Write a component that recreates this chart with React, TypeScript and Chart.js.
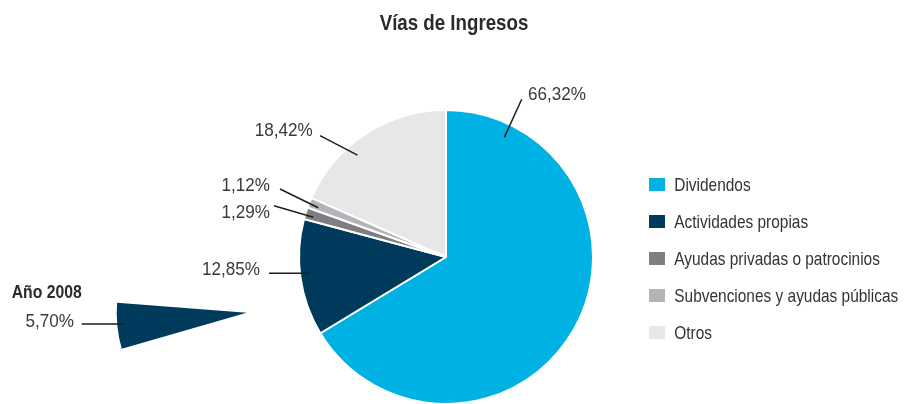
import React, { useEffect, useRef } from "react";
import { Chart, registerables } from "chart.js";

Chart.register(...registerables);

// ---------- data ----------
const TITLE = "Vías de Ingresos";
const CATEGORIES = [
  "Dividendos",
  "Actividades propias",
  "Ayudas privadas o patrocinios",
  "Subvenciones y ayudas públicas",
  "Otros",
];
const VALUES = [66.32, 12.85, 1.29, 1.12, 18.42];
const COLORS = ["#00b2e3", "#003a5d", "#7e7f83", "#b2b4b7", "#e6e7e9"];

const HIGHLIGHT_LABEL = "Año 2008";
const HIGHLIGHT_VALUE = 5.7;
const HIGHLIGHT_COLOR = "#003a5d";

// ---------- layout ----------
const W = 911;
const H = 404;
const FONT = "'Liberation Sans', Arial, sans-serif";
const MAIN_CENTER = { x: 446, y: 257 };
const MAIN_R = 147;
const WEDGE_CENTER = { x: 246.7, y: 312.7 };
const WEDGE_R = 130;
const WEDGE_ROTATION = 253.9;

// per slice: angle (deg clockwise from top) & radius fraction of inner leader end,
// outer leader end relative to centre, text anchor (x, baseline) relative to centre
const LABEL_LAYOUT = [
  { a: 26, rf: 0.905, ex: 75.7, ey: -157.7, tx: 82, ty: -157, align: "left" },
  { a: 263.2, rf: 0.932, ex: -177, ey: 16.3, tx: -186, ty: 18, align: "right" },
  { a: 286.7, rf: 0.942, ex: -172, ey: -51.3, tx: -176, ty: -38.7, align: "right" },
  { a: 291.1, rf: 0.931, ex: -166, ey: -68, tx: -176, ty: -66, align: "right" },
  { a: 319, rf: 0.918, ex: -126, ey: -121.3, tx: -133.3, ty: -121, align: "right" },
];
const LEGEND = { x: 649, box: 16, boxH: 13, textX: 674.3, firstY: 184.5, step: 37 };

function paddingFor(c: { x: number; y: number }) {
  const dx = 2 * c.x - W;
  const dy = 2 * c.y - H;
  return {
    left: dx > 0 ? dx : 0,
    right: dx > 0 ? 0 : -dx,
    top: dy > 0 ? dy : 0,
    bottom: dy > 0 ? 0 : -dy,
  };
}

const fmt = (v: number) => v.toFixed(2).replace(".", ",") + "%";

const LINE_COLOR = "#1e1e1e";
const TEXT_COLOR = "#3a3a3a";

// draws condensed text (horizontal scale sx); align: left | right | center
function drawText(
  ctx: CanvasRenderingContext2D,
  text: string,
  x: number,
  y: number,
  font: string,
  sx: number,
  align: string,
  color: string
) {
  ctx.save();
  ctx.font = font;
  ctx.fillStyle = color;
  ctx.textAlign = "left";
  ctx.textBaseline = "alphabetic";
  const w = ctx.measureText(text).width * sx;
  let x0 = x;
  if (align === "right") x0 = x - w;
  else if (align === "center") x0 = x - w / 2;
  ctx.translate(x0, y);
  ctx.scale(sx, 1);
  ctx.fillText(text, 0, 0);
  ctx.restore();
}

const mainDecor = {
  id: "mainDecor",
  afterDraw(chart: any) {
    const ctx = chart.ctx as CanvasRenderingContext2D;
    ctx.save();
    // title
    drawText(ctx, TITLE, 454, 30, `bold 22px ${FONT}`, 0.85, "center", "#2a2a2a");

    // slice labels
    const meta = chart.getDatasetMeta(0);
    meta.data.forEach((arc: any, i: number) => {
      const { x, y, outerRadius } = arc.getProps(["x", "y", "outerRadius"], true);
      const L = LABEL_LAYOUT[i];
      const ang = (L.a * Math.PI) / 180;
      const r = outerRadius * L.rf;
      const ix = x + r * Math.sin(ang);
      const iy = y - r * Math.cos(ang);
      ctx.strokeStyle = LINE_COLOR;
      ctx.lineWidth = 1.5;
      ctx.beginPath();
      ctx.moveTo(x + L.ex, y + L.ey);
      ctx.lineTo(ix, iy);
      ctx.stroke();
      drawText(ctx, fmt(VALUES[i]), x + L.tx, y + L.ty, `18px ${FONT}`, 0.95, L.align, TEXT_COLOR);
    });

    // legend
    CATEGORIES.forEach((c, i) => {
      const cy = LEGEND.firstY + i * LEGEND.step;
      ctx.fillStyle = COLORS[i];
      ctx.fillRect(LEGEND.x, cy - LEGEND.boxH / 2, LEGEND.box, LEGEND.boxH);
      drawText(ctx, c, LEGEND.textX, cy + 6.6, `18.6px ${FONT}`, 0.83, "left", "#333333");
    });
    ctx.restore();
  },
};

const wedgeDecor = {
  id: "wedgeDecor",
  afterDraw(chart: any) {
    const ctx = chart.ctx as CanvasRenderingContext2D;
    const arc = chart.getDatasetMeta(0).data[0];
    const { x, y } = arc.getProps(["x", "y"], true);
    ctx.save();
    ctx.strokeStyle = LINE_COLOR;
    ctx.lineWidth = 1.5;
    ctx.beginPath();
    ctx.moveTo(x - 165, y + 11.3);
    ctx.lineTo(x - 121.7, y + 11.3);
    ctx.stroke();
    drawText(ctx, HIGHLIGHT_LABEL, x - 235, y - 14.4, `bold 17.5px ${FONT}`, 0.9, "left", "#2a2a2a");
    drawText(ctx, fmt(HIGHLIGHT_VALUE), x - 172.7, y + 13.8, `18px ${FONT}`, 0.95, "right", TEXT_COLOR);
    ctx.restore();
  },
};

export default function App() {
  const mainRef = useRef<HTMLCanvasElement>(null);
  const wedgeRef = useRef<HTMLCanvasElement>(null);

  useEffect(() => {
    const main = new Chart(mainRef.current!, {
      type: "pie",
      data: {
        labels: CATEGORIES,
        datasets: [
          {
            data: VALUES,
            backgroundColor: COLORS,
            borderColor: "#ffffff",
            borderWidth: 2,
            clip: false as any,
          },
        ],
      },
      options: {
        responsive: false,
        devicePixelRatio: 1,
        animation: false,
        radius: MAIN_R,
        rotation: 0,
        layout: { padding: paddingFor(MAIN_CENTER) },
        plugins: { legend: { display: false }, tooltip: { enabled: false }, title: { display: false } },
      } as any,
      plugins: [mainDecor],
    });

    const wedge = new Chart(wedgeRef.current!, {
      type: "pie",
      data: {
        labels: [HIGHLIGHT_LABEL, ""],
        datasets: [
          {
            data: [HIGHLIGHT_VALUE, 100 - HIGHLIGHT_VALUE],
            backgroundColor: [HIGHLIGHT_COLOR, "rgba(0,0,0,0)"],
            borderWidth: 0,
            clip: false as any,
          },
        ],
      },
      options: {
        responsive: false,
        devicePixelRatio: 1,
        animation: false,
        radius: WEDGE_R,
        rotation: WEDGE_ROTATION,
        layout: { padding: paddingFor(WEDGE_CENTER) },
        plugins: { legend: { display: false }, tooltip: { enabled: false } },
      } as any,
      plugins: [wedgeDecor],
    });

    return () => {
      main.destroy();
      wedge.destroy();
    };
  }, []);

  const cstyle: React.CSSProperties = {
    position: "absolute",
    left: 0,
    top: 0,
    width: W,
    height: H,
  };

  return (
    <div
      style={{
        position: "fixed",
        left: 0,
        top: 0,
        width: W,
        height: H,
        overflow: "hidden",
        background: "#ffffff",
      }}
    >
      <canvas ref={mainRef} width={W} height={H} style={cstyle} />
      <canvas ref={wedgeRef} width={W} height={H} style={cstyle} />
    </div>
  );
}
